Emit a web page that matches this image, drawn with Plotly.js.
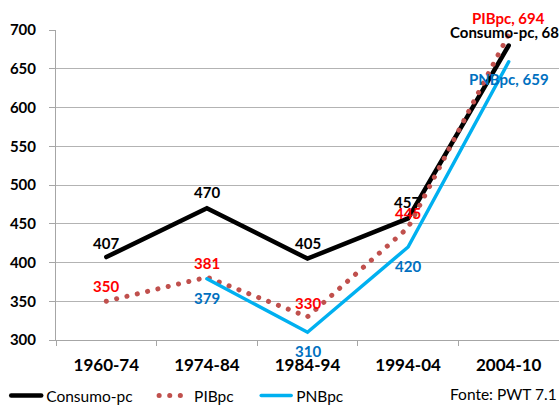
<!DOCTYPE html>
<html>
<head>
<meta charset="utf-8">
<script src="https://cdn.plot.ly/plotly-3.0.1.min.js"></script>
<style>
html,body{margin:0;padding:0;background:#fff;}
#chart{width:559px;height:405px;}
path.js-line{stroke-linecap:round;}
</style>
</head>
<body>
<div id="chart"></div>
<script>
// ---- data ----
var categories = ["1960-74", "1974-84", "1984-94", "1994-04", "2004-10"];
var consumoPc = [407, 470, 405, 457, 680];
var pibPc = [350, 381, 330, 445, 694];
var pnbPc = [null, 379, 310, 420, 659];
var yTicks = [300, 350, 400, 450, 500, 550, 600, 650, 700];

var FONT = "Lato, 'Open Sans', sans-serif";

var traces = [
  {x: categories, y: consumoPc, name: "Consumo-pc", type: "scatter", mode: "lines",
   line: {color: "#000000", width: 4.5}, cliponaxis: false, legend: "legend"},
  {x: categories, y: pibPc, name: "PIBpc", type: "scatter", mode: "lines",
   line: {color: "#C0504D", width: 5, dash: "0.1px,10.5px"}, cliponaxis: false, legend: "legend2"},
  {x: categories, y: pnbPc, name: "PNBpc", type: "scatter", mode: "lines",
   line: {color: "#00B0F0", width: 3.5}, connectgaps: false, cliponaxis: false, legend: "legend3"}
];

// data labels (offsets in px)
function labels(vals, color, offs, prefix) {
  var out = [];
  vals.forEach(function (v, i) {
    if (v === null) return;
    var o = offs[i];
    var txt = (prefix && i === vals.length - 1) ? prefix + ", " + v : String(v);
    out.push({x: categories[i], y: v, xref: "x", yref: "y", text: "<b>" + txt + "</b>",
      showarrow: false, xshift: o[0], yshift: o[1], xanchor: o[2] || "center", yanchor: "middle",
      font: {family: FONT, size: 15, color: color}});
  });
  return out;
}
var ann = [];
ann = ann.concat(labels(consumoPc, "#000000",
  [[0, 14], [0, 16], [0, 16], [-1, 16], [-61, 13.5, "left"]], "Consumo-pc"));
ann = ann.concat(labels(pibPc, "#FF0000",
  [[0, 15], [0, 14], [0, 14], [0, 15], [0, 16.5]], "PIBpc"));
ann = ann.concat(labels(pnbPc, "#0070C0",
  [[0, 0], [0, -19], [0, -19], [0, -19], [0, -17]], "PNBpc"));
ann.push({xref: "paper", yref: "paper", x: 1, y: 0, yshift: -54, xanchor: "right", yanchor: "middle",
  text: "Fonte: PWT 7.1", showarrow: false, font: {family: FONT, size: 15.5, color: "#000"}});
ann.push({xref: "paper", yref: "paper", x: 0.55, y: 1, yanchor: "middle", yshift: 39,
  text: "<b>Consumo, PIB e PNB (US$) per capita, médias por período y anos, Brasil</b>",
  showarrow: false, font: {family: FONT, size: 15, color: "#000000"}});

function leg(x) {
  return {orientation: "h", x: x, xanchor: "left", yref: "container", y: 0.0222, yanchor: "middle",
    font: {family: FONT, size: 15.5, color: "#000"}, bgcolor: "rgba(0,0,0,0)", borderwidth: 0};
}

var layout = {
  width: 559, height: 405,
  margin: {l: 56, r: 0, t: 30, b: 65},
  paper_bgcolor: "#ffffff", plot_bgcolor: "#ffffff",
  showlegend: true,
  legend: leg(-0.099),
  legend2: leg(0.195),
  legend3: leg(0.398),
  xaxis: {type: "category", range: [-0.5, 4.5], showgrid: false, showline: true,
    linecolor: "#A6A6A6", linewidth: 1, ticks: "outside", tickson: "boundaries",
    ticklen: 5, tickcolor: "#A6A6A6", fixedrange: true, ticklabelstandoff: 10, automargin: false,
    tickfont: {family: FONT, size: 17, color: "#000", weight: "bold"}},
  yaxis: {range: [300, 700], tickvals: yTicks, showgrid: true, gridcolor: "#B3B3B3",
    gridwidth: 1, showline: true, linecolor: "#A6A6A6", linewidth: 1, ticks: "outside",
    ticklen: 6, tickcolor: "#A6A6A6", zeroline: false, ticklabelstandoff: 10, automargin: false,
    tickfont: {family: FONT, size: 15, color: "#000", weight: "bold"}},
  annotations: ann
};

Plotly.newPlot("chart", traces, layout, {staticPlot: true, displayModeBar: false});
</script>
</body>
</html>
